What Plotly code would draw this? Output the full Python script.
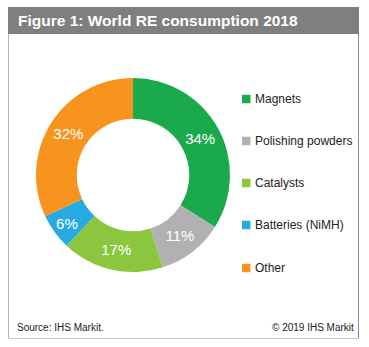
import plotly.graph_objects as go

categories = ["Magnets", "Polishing powders", "Catalysts", "Batteries (NiMH)", "Other"]
values = [34, 11, 17, 6, 32]
colors = ["#1aaa4b", "#b1b1b3", "#8cc63f", "#27aae1", "#f7941d"]
title_text = "Figure 1: World RE consumption 2018"
source_text = "Source: IHS Markit."
copyright_text = "© 2019 IHS Markit"

W, H = 369, 347
FONT = "Liberation Sans, Arial, sans-serif"

def px(x):
    return x / W

def py(y):
    return 1 - y / H

fig = go.Figure()
fig.add_trace(go.Pie(
    labels=categories,
    values=values,
    marker=dict(colors=colors, line=dict(width=0)),
    hole=0.58,
    sort=False,
    direction="clockwise",
    rotation=0,
    textinfo="percent",
    textposition="inside",
    insidetextorientation="horizontal",
    textfont=dict(family=FONT, size=15, color="white"),
    showlegend=False,
    domain=dict(x=[px(36), px(230)], y=[py(272), py(78)]),
    hoverinfo="label+percent",
))

shapes = []
annotations = []

# title bar
shapes.append(dict(type="rect", xref="paper", yref="paper",
                   x0=px(8), x1=px(359), y0=py(34), y1=py(7),
                   fillcolor="#7f7f7f", line=dict(width=0), layer="below"))
# border lines
shapes.append(dict(type="line", xref="paper", yref="paper",
                   x0=px(8.5), x1=px(8.5), y0=py(338), y1=py(34),
                   line=dict(color="#b5b5b5", width=1)))
shapes.append(dict(type="line", xref="paper", yref="paper",
                   x0=px(358.5), x1=px(358.5), y0=py(338), y1=py(34),
                   line=dict(color="#8a8a8a", width=1)))
shapes.append(dict(type="line", xref="paper", yref="paper",
                   x0=px(8.5), x1=px(358.5), y0=py(338.5), y1=py(338.5),
                   line=dict(color="#c8c8c8", width=1)))

annotations.append(dict(text="<b>" + title_text + "</b>", xref="paper", yref="paper",
                        x=px(16), y=py(21), xanchor="left", yanchor="middle",
                        showarrow=False, font=dict(family=FONT, size=15.5, color="white")))

# manual legend
legend_y = [99, 141, 183, 225, 268]
for cat, col, ly in zip(categories, colors, legend_y):
    shapes.append(dict(type="rect", xref="paper", yref="paper",
                       x0=px(242), x1=px(250.5), y0=py(ly + 4.25), y1=py(ly - 4.25),
                       fillcolor=col, line=dict(width=0)))
    annotations.append(dict(text=cat, xref="paper", yref="paper",
                            x=px(253), y=py(ly), xanchor="left", yanchor="middle",
                            showarrow=False, font=dict(family=FONT, size=12, color="#222")))

annotations.append(dict(text=source_text, xref="paper", yref="paper",
                        x=px(15), y=py(327), xanchor="left", yanchor="middle",
                        showarrow=False, font=dict(family=FONT, size=10, color="#222")))
annotations.append(dict(text=copyright_text, xref="paper", yref="paper",
                        x=px(356), y=py(327), xanchor="right", yanchor="middle",
                        showarrow=False, font=dict(family=FONT, size=10, color="#222")))

fig.update_layout(
    width=W, height=H,
    margin=dict(l=0, r=0, t=0, b=0),
    paper_bgcolor="white",
    plot_bgcolor="white",
    shapes=shapes,
    annotations=annotations,
)

fig.write_html("out.html")
